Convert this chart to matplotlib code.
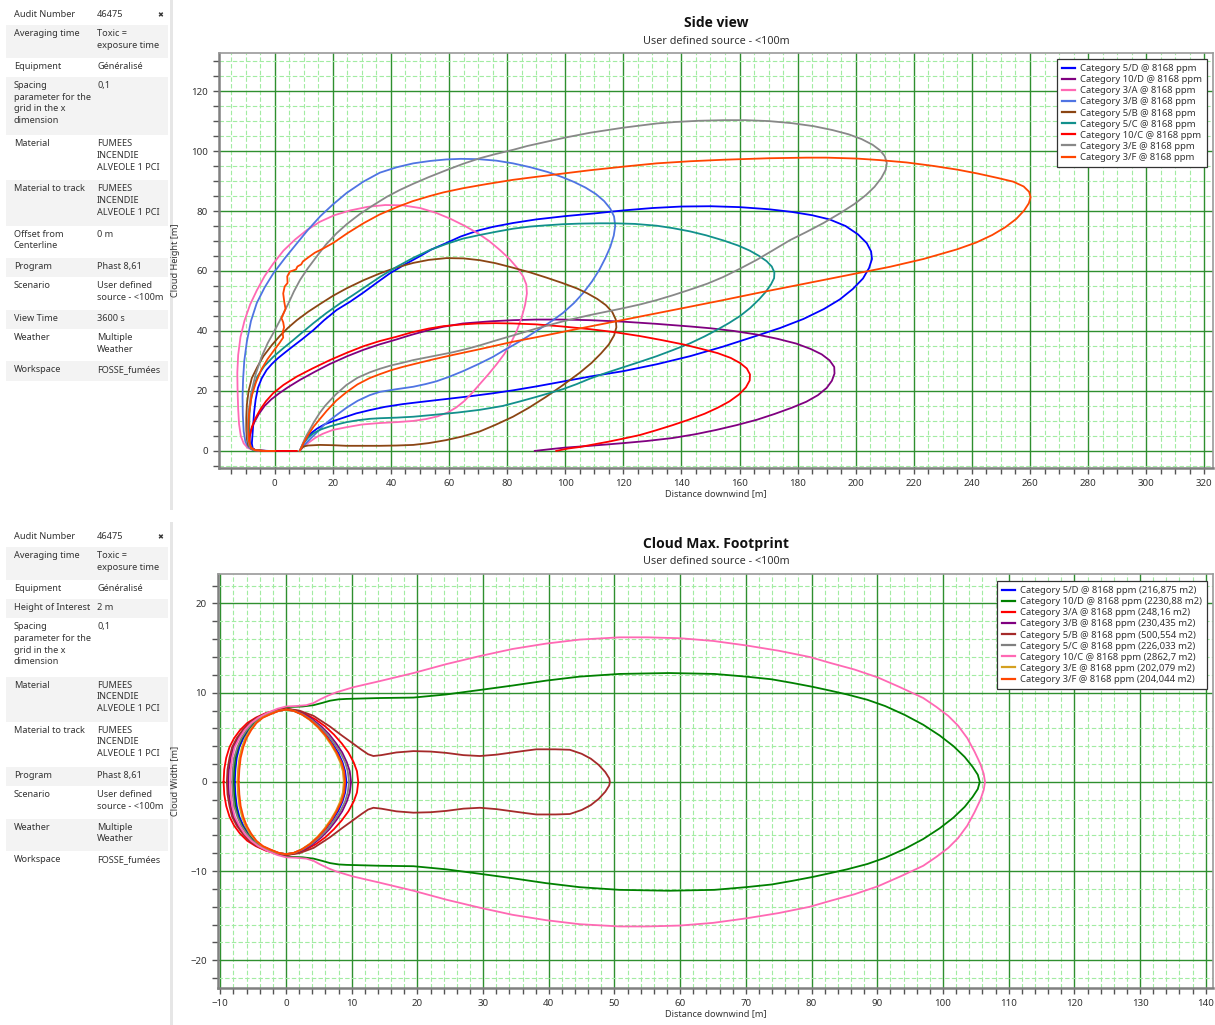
import numpy as np
import matplotlib
matplotlib.use("Agg")
import matplotlib.pyplot as plt
from matplotlib.ticker import MultipleLocator
from matplotlib.lines import Line2D

plt.rcParams['font.family'] = ['Noto Sans', 'DejaVu Sans']

# ---------------- side view data (x downwind [m], z height [m]) ----------------
# each outline runs out along the lower edge, round the tip and back along the top
side_5D_x = [8.6, 9.2, 9.9, 11, 12.5, 14.5, 17, 20, 24, 28, 32.7, 38, 44, 50, 59, 67, 75, 82, 90, 99,
             108.5, 120, 131.5, 143, 154.4, 165.9, 174, 182, 189, 194.5, 199, 202.5, 204.6, 205.6, 205.3,
             203.8, 200.8, 196.5, 191, 185, 178, 170, 160, 150, 140, 130, 120, 110, 100, 90, 82, 75, 70,
             64, 59, 54, 49.9, 45, 39.6, 35, 30.5, 26, 21.3, 17, 13.3, 9.5, 6.4, 3.5, 1.2, -1, -2.8,
             -4.5, -5.8, -6.6, -7.1, -7.4, -7.7, -7.9, -7.6, -6.8, -5, -2]
side_5D_y = [0, 1.2, 2.6, 4.2, 5.9, 7.4, 8.8, 9.9, 11.2, 12.5, 13.6, 14.7, 15.6, 16.3, 17.3, 18.2, 19.2,
             20.2, 21.5, 23.1, 24.8, 26.6, 28.9, 31.6, 34.8, 38.4, 41, 44, 47.3, 50.5, 54, 57.5, 61, 64,
             66.5, 69.3, 72.2, 75, 77.2, 78.6, 79.7, 80.6, 81.3, 81.6, 81.5, 81, 80.2, 79.2, 78.3, 77.2,
             76, 74.7, 73.5, 71.5, 69.3, 67.2, 64.9, 62.3, 59.2, 56, 52.8, 49.8, 47, 43.6, 40.3, 37.3,
             35, 32.8, 31, 29, 27, 24.2, 21, 17, 13, 9, 5, 2.5, 0.9, 0.3, 0.1, 0]

side_10D_x = [89.5, 95, 100, 108.5, 115, 120, 128, 137, 145, 152, 159, 166, 172, 178, 183, 187, 190,
              191.8, 192.7, 192.6, 191, 188.3, 184.5, 179.5, 173, 166, 158, 150, 143, 131, 120, 108.5,
              99, 90, 82, 74, 64.8, 58, 53, 47, 42, 36, 30.5, 25, 19, 14, 8.7, 4.5, 1.5, -1.2, -3.5,
              -5.5, -7, -8.2, -8.8, -8.8, -8.2, -6.5, -3, 3, 7.2]
side_10D_y = [0, 0.6, 1.1, 1.7, 2.2, 2.6, 3.3, 4.3, 5.6, 7, 8.6, 10.4, 12.3, 14.4, 16.4, 18.6, 21, 23.4,
              25.8, 28, 30.2, 32.2, 34, 35.8, 37.4, 38.8, 40, 40.9, 41.5, 42.4, 43.1, 43.6, 43.8, 43.8,
              43.6, 43.2, 42.5, 41.4, 40.3, 38.7, 37.2, 35.5, 33.7, 31.6, 29, 26.5, 23.7, 21.2, 19.2,
              17.2, 15, 12.3, 9.6, 6.8, 4, 2, 0.8, 0.2, 0, 0, 0]

side_3A_x = [8.6, 10, 12, 14, 16.5, 20, 24.7, 30, 36.2, 42, 47.7, 52, 56, 59.5, 62.5, 65.2, 67.8, 70.5,
             73.5, 76.3, 79, 81.3, 83.3, 85, 86.2, 86.8, 86.6, 85.5, 83.5, 80.8, 77.5, 73.8, 70, 65.5,
             60.5, 55.5, 50, 44, 38, 32, 26, 20.5, 15.5, 11, 7, 3, -0.5, -3.5, -6.2, -8.5, -10.4, -11.8,
             -12.6, -12.9, -12.8, -12.6, -12.3, -11.7, -10.7, -9.3, -7.5, -5.5]
side_3A_y = [0, 1.5, 3, 4.4, 5.7, 7, 7.9, 8.8, 9.3, 9.6, 10, 10.6, 11.5, 12.8, 14.5, 16.6, 19.2, 22.2,
             25.5, 28.8, 32.3, 36, 40, 44.5, 48.8, 52.5, 55.5, 58.2, 61, 64, 67, 70, 72.5, 75, 77.4,
             79.4, 81, 81.9, 82, 81.4, 80.2, 78.6, 76.4, 73.6, 70.5, 66.8, 62.5, 58.3, 53.5, 48.8, 43.5,
             38, 32, 26, 20, 14, 9, 5, 2.5, 1, 0.3, 0.1]

side_3B_x = [8.6, 9.5, 10.7, 12.1, 14.3, 16.7, 19, 21.2, 24.7, 28.5, 32.7, 36.2, 42, 47.7, 52, 55.6, 60,
             64.8, 70, 75, 79, 82, 86.5, 91.2, 95.5, 99.2, 103, 106.2, 109.2, 111.8, 113.8, 115.5, 116.7,
             117.2, 116.8, 115.5, 113.4, 110.5, 107, 103, 99, 94, 88, 82, 76.3, 70, 64, 59, 53.5, 47.7,
             42, 36.2, 30.5, 24.7, 19.8, 15.6, 11.5, 7.6, 3.5, -0.5, -3.5, -6.2, -8.2, -9.6, -10.5,
             -10.9, -11.1, -11, -10.7, -10.1, -9, -7.5, -5.5]
side_3B_y = [0, 1.2, 2.5, 3.9, 6, 8.4, 10.3, 11.9, 14.4, 16.7, 18.6, 19.7, 20.6, 21.4, 22.3, 23.2, 24.7,
             26.6, 28.9, 31.3, 33.6, 35.2, 37.8, 40.7, 43.4, 46, 49.3, 52.7, 56.5, 60.5, 64.3, 68, 71.8,
             75, 78.2, 80.8, 83.3, 85.7, 87.8, 89.7, 91.3, 93, 94.6, 95.9, 96.8, 97.3, 97.4, 97.2, 96.7,
             95.9, 94.6, 92.8, 89.8, 86, 82, 78.2, 73.8, 69.2, 64.3, 59.2, 54.5, 49.3, 43.3, 36.5, 30,
             24, 18, 12, 6.5, 3, 1.2, 0.3, 0.1]

side_5B_x = [8.6, 9.2, 10, 11.5, 15.6, 20, 24.7, 30, 36.2, 42, 47.7, 53, 59, 64.5, 70.6, 76, 82, 87.5,
             93.5, 99, 104.9, 109, 112.3, 115, 116.8, 117.6, 117.4, 116.2, 114, 111, 107.5, 104, 99, 93.5,
             88, 82, 76, 70.6, 65, 59.1, 53, 47.7, 42, 36.2, 30.5, 24.7, 20, 15.6, 11.5, 7.6, 4.5, 1.8,
             -1, -3.9, -6, -7.9, -9, -9.6, -9.8, -9.8, -9.6, -9.1, -8, -6.5, -4.5]
side_5B_y = [0, 0.9, 1.5, 1.8, 2, 1.9, 1.7, 1.7, 1.7, 1.8, 2, 2.6, 3.6, 4.8, 6.5, 8.7, 11.4, 14.4, 18.1,
             21.8, 26, 29.3, 32.5, 35.5, 38.5, 41.2, 43.8, 46.3, 48.6, 50.7, 52.6, 54.2, 56, 57.8, 59.5,
             61.1, 62.6, 63.6, 64.2, 64.3, 63.7, 62.7, 61.2, 59.2, 56.9, 54.2, 51.7, 49, 46.4, 43.6, 41,
             38.4, 35.3, 31.6, 28, 24.3, 20, 15.5, 11, 7, 4, 1.8, 0.6, 0.2, 0]

side_5C_x = [8.6, 9.2, 9.9, 11.5, 13.3, 16, 19, 21.7, 24.7, 28.5, 32.7, 36.2, 42, 47.7, 55.6, 63, 70.6,
             78.5, 84, 90, 95.7, 99.2, 104, 108.5, 114, 120, 126, 131.5, 137, 143, 148, 152.1, 156.3,
             160.2, 163.7, 166.7, 169, 170.8, 171.9, 172, 171.1, 169.3, 166.6, 163.5, 159.5, 154.4, 148.5,
             143, 137, 131.5, 124, 117, 111.8, 105, 99.2, 93, 87.7, 82, 76.3, 70.5, 64.8, 59, 53.4, 47.5,
             42, 36.5, 31.6, 27, 22.5, 17.8, 13.3, 9.7, 6.4, 3, -0.5, -3.6, -6, -7.5, -8.3, -8.7, -8.8,
             -8.8, -8.4, -7.5, -6, -3]
side_5C_y = [0, 1.3, 2.6, 4.4, 5.9, 7.2, 8.2, 8.9, 9.6, 10.2, 10.7, 10.9, 11.1, 11.4, 12.1, 12.8, 13.7,
             15, 16.4, 18, 19.6, 20.6, 22.3, 24.1, 26, 27.9, 29.8, 31.6, 33.6, 35.9, 38.2, 40.3, 42.6,
             45, 47.7, 50.5, 53, 55.5, 57.6, 59.5, 61.5, 63.3, 65.1, 66.8, 68.5, 70.2, 71.9, 73.2, 74.3,
             75.1, 75.7, 75.9, 75.9, 75.8, 75.6, 75.2, 74.8, 74.1, 73.1, 72, 70.8, 69, 67, 64.3, 61.4,
             58.2, 55, 52, 49.2, 46, 42.6, 39.7, 37, 34.3, 31.4, 28.3, 24.8, 20.5, 16.5, 12.5, 8, 4.5,
             1.8, 0.5, 0.2, 0]

side_10C_x = [96.9, 101, 105, 110, 115, 120, 125.7, 131, 137, 142.5, 148, 152.5, 156.5, 159.8, 162.2,
              163.5, 163.6, 162.5, 160.2, 157, 152.5, 147, 140.7, 133, 125.7, 117, 108.5, 99, 90, 82,
              76, 70, 64.8, 58, 53, 47, 42, 36, 30.5, 25, 19, 13, 7.6, 3, -0.5, -3, -5, -6.7, -7.9,
              -8.6, -8.7, -8.2, -6.5, -3, 3, 7.6]
side_10C_y = [0, 0.8, 1.3, 2.2, 3.1, 4.1, 5.3, 6.8, 8.6, 10.4, 12.4, 14.4, 16.5, 18.8, 21.2, 23.5, 25.5,
              27.5, 29.3, 31, 32.6, 34, 35.5, 37, 38.3, 39.6, 40.6, 41.5, 42.2, 42.5, 42.6, 42.5, 42.2,
              41.6, 40.8, 39.5, 38.1, 36.6, 34.9, 32.8, 30.3, 27.5, 24.8, 22, 19.3, 16.6, 13.8, 10.8, 8,
              5, 2.7, 1, 0.2, 0, 0, 0]

side_3E_x = [8.6, 9.1, 9.7, 10.7, 12, 13.6, 15.5, 17.3, 19, 21.2, 24.7, 28.5, 32.7, 36.2, 40, 44, 47.7,
             54, 61.3, 66, 70.6, 76, 82, 90, 99.2, 104, 108.5, 114, 120, 126, 131.5, 137, 143, 149, 154.4,
             160, 165.9, 171.5, 177.4, 183, 188.9, 194.5, 199.5, 203.5, 206.5, 208.8, 210.3, 210.7, 210,
             208.3, 205.8, 202, 197.5, 192, 185.5, 178, 170, 162, 154.4, 146, 138, 131.5, 120, 108.5,
             100, 93.5, 87, 82, 76, 70.6, 65, 59, 53, 47.7, 43, 38.5, 34, 29.3, 25, 21.3, 17.6, 14.4,
             11.3, 8.7, 6.6, 4.9, 3.3, 1.5, -0.4, -2.4, -4.5, -6.6, -8.2, -9.1, -9.4, -9.2, -8.6, -7.3,
             -5.5]
side_3E_y = [0, 1.2, 2.6, 4.8, 7, 9.8, 12.7, 15, 16.8, 19, 22, 24.4, 26.2, 27.4, 28.5, 29.4, 30.3, 31.5,
             32.9, 34, 35.2, 36.8, 38.5, 40.8, 43.2, 44.3, 45.3, 46.4, 47.6, 48.9, 50.3, 51.9, 53.8,
             55.8, 58, 60.7, 63.7, 66.9, 70.3, 73, 76, 79.2, 82.3, 85.3, 88.1, 91, 93.7, 96, 98.3, 100.3,
             102.1, 104, 105.6, 107, 108.3, 109.3, 110, 110.3, 110.3, 110.1, 109.7, 109.2, 107.8, 106.1,
             104.5, 103.1, 101.7, 100.4, 99, 97.6, 95.8, 93.6, 91.3, 89.1, 87, 84.7, 82, 79, 75.8, 72.6,
             68.8, 64.8, 60.8, 57, 53.2, 49.6, 46.5, 43, 39.5, 36, 31.5, 25.5, 19, 12.5, 7, 3.5, 1.2,
             0.3, 0.1]

side_3F_x = [8.6, 9.3, 9.9, 11.5, 13.3, 15.5, 17.9, 21.2, 24.7, 28.5, 32.7, 36.2, 40, 44, 47.7, 54, 61.3,
             70, 82, 90, 99.2, 108.5, 120, 131.5, 143, 154.4, 165.9, 177.4, 188.9, 200.3, 211.8, 223.3,
             234.8, 241.5, 247, 251.5, 255.3, 258, 259.6, 260.2, 259.7, 257.8, 254.2, 249, 242, 235, 227,
             217.5, 208, 200.3, 190, 183.1, 170, 154.4, 143, 131.5, 120, 108.5, 99.2, 90, 82, 73, 64.8,
             58, 53.4, 47.5, 42, 36, 30.5, 25, 20.2, 16.5, 13.8, 11.5, 9.7, 9.1, 7.8, 7.3, 5.2, 4.3, 4.4,
             3.4, 2.9, 3.3, 3.7, 3.1, 2.3, 2.9, 3.2, 2.7, 2.9, 1.5, 0, -2.5, -4.6, -6.5, -8, -8.9, -9.1,
             -8.9, -8.2, -7, -4, 0]
side_3F_y = [0, 1.3, 2.6, 5.3, 8, 10.6, 13.4, 16.8, 19.6, 22.2, 24.3, 25.6, 26.9, 28, 28.9, 30.4, 32,
             33.8, 36.4, 37.9, 39.7, 41.5, 43.7, 45.9, 48.1, 50.3, 52.6, 54.8, 57, 59.2, 61.4, 64, 67.2,
             69.5, 72, 74.6, 77.4, 80.2, 82.6, 84.6, 86.4, 88.2, 89.8, 91, 92.5, 93.8, 95, 96.2, 97,
             97.5, 97.8, 97.8, 97.6, 97.1, 96.6, 95.9, 94.8, 93.6, 92.5, 91.4, 90.4, 89, 87.6, 86.2, 85,
             83.3, 81.3, 78.8, 75.9, 72.6, 69.4, 67.4, 66.1, 64.5, 63.2, 62.2, 61.5, 60.5, 59.8, 58.2,
             56, 54.8, 52.5, 49.5, 47.4, 46, 44.3, 42.9, 41.2, 39.5, 37.8, 35.8, 33.9, 30.6, 27.2, 22.8,
             18.1, 12, 7, 3.2, 1, 0.3, 0, 0]

side_labels = ['Category 5/D @ 8168 ppm', 'Category 10/D @ 8168 ppm', 'Category 3/A @ 8168 ppm',
               'Category 3/B @ 8168 ppm', 'Category 5/B @ 8168 ppm', 'Category 5/C @ 8168 ppm',
               'Category 10/C @ 8168 ppm', 'Category 3/E @ 8168 ppm', 'Category 3/F @ 8168 ppm']
side_colors = ['#0000ff', '#800080', '#ff69b4', '#4f74e3', '#8b4513', '#12908c', '#ff0000',
               '#888888', '#ff4500']

# ---------------- footprint data (x downwind [m], half width [m]) ----------------
fp_5D_x = [-7.8, -7.7, -7.5, -7.1, -6.5, -5.7, -4.8, -3.8, -2.5, -1.2, 0, 1.25, 2.5, 3.75, 5.0, 6.1, 7.1,
           7.95, 8.6, 9.0, 9.2]
fp_5D_w = [0, 1.4, 2.7, 3.9, 4.9, 5.8, 6.6, 7.2, 7.6, 7.95, 8.1, 7.95, 7.55, 6.95, 6.15, 5.25, 4.25,
           3.25, 2.2, 1.2, 0]

fp_10D_x = [-8.0, -7.9, -7.7, -7.3, -6.7, -5.9, -5.0, -3.9, -2.5, -1.0, 0.6, 2.5, 4.2, 5.5, 6.7, 8, 9.2,
            14.3, 19.4, 24.4, 29.5, 34.5, 39.6, 44.7, 50.75, 58.3, 65.2, 70, 73.9, 77, 80.2, 83, 85.4,
            88.5, 91.2, 94.2, 97, 99.5, 101.6, 103.3, 104.5, 105.3, 105.6]
fp_10D_w = [0, 1.4, 2.7, 3.9, 4.9, 5.8, 6.6, 7.2, 7.75, 8.15, 8.4, 8.45, 8.6, 8.85, 9.1, 9.25, 9.3,
            9.4, 9.45, 9.8, 10.3, 10.8, 11.35, 11.8, 12.1, 12.2, 12.1, 11.8, 11.5, 11.1, 10.65, 10.2, 9.8,
            9.2, 8.5, 7.5, 6.4, 5.2, 4.0, 2.8, 1.7, 0.8, 0]

fp_3A_x = [-9.5, -9.4, -9.1, -8.6, -7.9, -7.0, -5.9, -4.6, -3.1, -1.5, 0, 1.5, 3.0, 4.5, 6.0, 7.3, 8.5,
           9.5, 10.3, 10.8, 11.0]
fp_3A_w = [0, 1.4, 2.7, 3.9, 4.9, 5.8, 6.6, 7.2, 7.7, 8.0, 8.2, 8.0, 7.6, 7.0, 6.2, 5.3, 4.3, 3.3, 2.2,
           1.2, 0]

fp_3B_x = [-8.8, -8.7, -8.4, -8.0, -7.3, -6.5, -5.5, -4.3, -2.9, -1.4, 0, 1.35, 2.7, 4.05, 5.4, 6.6,
           7.65, 8.55, 9.25, 9.7, 9.9]
fp_3B_w = [0, 1.4, 2.7, 3.9, 4.9, 5.8, 6.6, 7.2, 7.7, 8.0, 8.2, 8.0, 7.6, 7.0, 6.2, 5.3, 4.3, 3.3, 2.2,
           1.2, 0]

fp_5B_x = [-9.0, -8.9, -8.6, -8.2, -7.5, -6.6, -5.6, -4.4, -2.9, -1.4, 0, 2, 4.2, 6.7, 8.5, 10.2, 11.5,
           12.5, 13.3, 14.5, 16.8, 19.4, 22, 24.4, 27, 29.5, 32, 34.5, 36.5, 38.1, 41, 43.2, 45, 46.4,
           47.6, 48.6, 49.2, 49.3]
fp_5B_w = [0, 1.4, 2.7, 3.9, 4.9, 5.8, 6.6, 7.2, 7.7, 8.0, 8.2, 8.0, 7.4, 6.2, 5.2, 4.3, 3.6,
           3.1, 2.9, 3.0, 3.3, 3.45, 3.4, 3.25, 3.0, 2.9, 3.05, 3.3, 3.5, 3.65, 3.65, 3.6, 3.15, 2.6,
           1.9, 1.1, 0.4, 0]

fp_5C_x = [-8.2, -8.1, -7.9, -7.4, -6.8, -6.0, -5.1, -4.0, -2.7, -1.3, 0, 1.3, 2.6, 3.9, 5.2, 6.4, 7.4,
           8.3, 9.0, 9.4, 9.6]
fp_5C_w = [0, 1.4, 2.7, 3.9, 4.9, 5.8, 6.6, 7.2, 7.6, 7.95, 8.1, 7.95, 7.55, 6.95, 6.15, 5.25, 4.25,
           3.25, 2.2, 1.2, 0]

fp_10C_x = [-8.5, -8.4, -8.2, -7.8, -7.1, -6.3, -5.3, -4.2, -2.8, -1.3, 0, 1.5, 3.1, 4.2, 5.2, 6.5, 7.7,
            10.2, 14.3, 19.4, 24.4, 29.5, 34.5, 39.6, 44.7, 50.75, 55, 60, 65, 70, 75, 79.7, 83, 86.5,
            90.1, 93.5, 97, 99, 100.8, 102.3, 103.7, 104.8, 105.7, 106.2, 106.4]
fp_10C_w = [0, 1.4, 2.7, 3.9, 4.9, 5.8, 6.6, 7.2, 7.75, 8.2, 8.45, 8.5, 8.6, 8.85, 9.25, 9.7, 10.05,
            10.6, 11.3, 12.2, 13.2, 14.1, 14.9, 15.5, 15.95, 16.2, 16.2, 16.1, 15.8, 15.3, 14.7, 14.0,
            13.3, 12.6, 11.7, 10.6, 9.4, 8.4, 7.4, 6.3, 4.9, 3.4, 2.0, 0.9, 0]

fp_3E_x = [-7.4, -7.3, -7.1, -6.7, -6.2, -5.5, -4.6, -3.6, -2.4, -1.2, 0, 1.2, 2.4, 3.6, 4.8, 5.85,
           6.8, 7.6, 8.25, 8.65, 8.8]
fp_3E_w = [0, 1.4, 2.7, 3.9, 4.9, 5.8, 6.6, 7.2, 7.6, 7.95, 8.1, 7.95, 7.55, 6.95, 6.15, 5.25, 4.25,
           3.25, 2.2, 1.2, 0]

fp_3F_x = [-7.2, -7.1, -6.9, -6.5, -6.0, -5.3, -4.5, -3.5, -2.3, -1.1, 0, 1.2, 2.45, 3.7, 4.9, 6.0,
           6.95, 7.75, 8.45, 8.85, 9.0]
fp_3F_w = [0, 1.4, 2.7, 3.9, 4.9, 5.8, 6.6, 7.2, 7.6, 7.95, 8.1, 7.95, 7.55, 6.95, 6.15, 5.25, 4.25,
           3.25, 2.2, 1.2, 0]

fp_labels = ['Category 5/D @ 8168 ppm (216,875 m2)', 'Category 10/D @ 8168 ppm (2230,88 m2)',
             'Category 3/A @ 8168 ppm (248,16 m2)', 'Category 3/B @ 8168 ppm (230,435 m2)',
             'Category 5/B @ 8168 ppm (500,554 m2)', 'Category 5/C @ 8168 ppm (226,033 m2)',
             'Category 10/C @ 8168 ppm (2862,7 m2)', 'Category 3/E @ 8168 ppm (202,079 m2)',
             'Category 3/F @ 8168 ppm (204,044 m2)']
fp_colors = ['#0000ff', '#008000', '#ff0000', '#800080', '#a52a2a', '#808080', '#ff69b4',
             '#d4a020', '#ff4500']

# ---------------- property panels ----------------
panel_top = [
    ('Audit Number', '46475'),
    ('Averaging time', 'Toxic =\nexposure time'),
    ('Equipment', 'Généralisé'),
    ('Spacing\nparameter for the\ngrid in the x\ndimension', '0,1'),
    ('Material', 'FUMEES\nINCENDIE\nALVEOLE 1 PCI'),
    ('Material to track', 'FUMEES\nINCENDIE\nALVEOLE 1 PCI'),
    ('Offset from\nCenterline', '0 m'),
    ('Program', 'Phast 8,61'),
    ('Scenario', 'User defined\nsource - <100m'),
    ('View Time', '3600 s'),
    ('Weather', 'Multiple\nWeather'),
    ('Workspace', 'FOSSE_fumées'),
]
panel_bottom = [
    ('Audit Number', '46475'),
    ('Averaging time', 'Toxic =\nexposure time'),
    ('Equipment', 'Généralisé'),
    ('Height of Interest', '2 m'),
    ('Spacing\nparameter for the\ngrid in the x\ndimension', '0,1'),
    ('Material', 'FUMEES\nINCENDIE\nALVEOLE 1 PCI'),
    ('Material to track', 'FUMEES\nINCENDIE\nALVEOLE 1 PCI'),
    ('Program', 'Phast 8,61'),
    ('Scenario', 'User defined\nsource - <100m'),
    ('Weather', 'Multiple\nWeather'),
    ('Workspace', 'FOSSE_fumées'),
]

W, H = 1215, 1025
fig = plt.figure(figsize=(W / 100, H / 100), dpi=100)

# background axes in pixel units for the panels and titles
bg = fig.add_axes([0, 0, 1, 1])
bg.set_xlim(0, W)
bg.set_ylim(H, 0)
bg.axis('off')

TXT = '#333333'
LINE_H = 12.9


def draw_panel(rows, top, y_end):
    bg.add_patch(plt.Rectangle((170, top - 6), 3, y_end - top + 6, color='#e6e6e6', lw=0))
    y = top
    for i, (lab, val) in enumerate(rows):
        n = max(lab.count('\n'), val.count('\n')) + 1
        h = LINE_H * n + 6.5
        if i % 2 == 1:
            bg.add_patch(plt.Rectangle((6, y), 162, h, color='#f3f3f3', lw=0))
        bg.text(14, y + 4, lab, fontsize=6.6, color=TXT, va='top', ha='left', linespacing=1.38)
        bg.text(97, y + 4, val, fontsize=6.6, color=TXT, va='top', ha='left', linespacing=1.38)
        y += h
    bg.text(160, top + 9, '✖', fontsize=5, color='#333333', ha='center', va='center',
            family='DejaVu Sans')


draw_panel(panel_top, 6, 510)
draw_panel(panel_bottom, 528, 1025)

# titles
TITLE_FONT = ['Open Sans', 'DejaVu Sans']
bg.text(716, 23, 'Side view', fontsize=10, fontweight='bold', family=TITLE_FONT, ha='center',
        va='center', color='#111111')
bg.text(716, 41, 'User defined source - <100m', fontsize=7.8, ha='center', va='center', color=TXT)
bg.text(716, 544, 'Cloud Max. Footprint', fontsize=10, fontweight='bold', family=TITLE_FONT,
        ha='center', va='center', color='#111111')
bg.text(716, 562, 'User defined source - <100m', fontsize=7.8, ha='center', va='center', color=TXT)


def px_axes(l, t, r, b):
    return fig.add_axes([l / W, 1 - b / H, (r - l) / W, (b - t) / H])


def style(ax, xmaj, xmin, ymaj, ymin):
    ax.xaxis.set_major_locator(MultipleLocator(xmaj))
    ax.xaxis.set_minor_locator(MultipleLocator(xmin))
    ax.yaxis.set_major_locator(MultipleLocator(ymaj))
    ax.yaxis.set_minor_locator(MultipleLocator(ymin))
    ax.grid(which='minor', color='#a2eca2', lw=0.8, ls=(0, (4, 2)))
    ax.grid(which='major', color='#2f8f2f', lw=1.0)
    ax.set_axisbelow(True)
    ax.tick_params(which='both', direction='out', length=4, width=1, color='#555555',
                   labelsize=7, labelcolor=TXT, pad=4)
    for s in ('left', 'bottom'):
        ax.spines[s].set_color('#808080')
        ax.spines[s].set_linewidth(1.8)
    for s in ('top', 'right'):
        ax.spines[s].set_color('#9a9a9a')
        ax.spines[s].set_linewidth(1.2)


def legend(ax, colors, labels, right, top):
    handles = [Line2D([], [], color=c, lw=1.6) for c in colors]
    leg = ax.legend(handles, labels, loc='upper right', bbox_to_anchor=(right / W, 1 - top / H),
                    bbox_transform=fig.transFigure, borderaxespad=0, fancybox=False, framealpha=1,
                    edgecolor='#333333', fontsize=6.8, handlelength=1.4, handletextpad=0.5,
                    labelspacing=0.22, borderpad=0.55)
    leg.get_frame().set_linewidth(0.9)
    for t in leg.get_texts():
        t.set_color(TXT)


# side view
ax1 = px_axes(219, 53, 1213, 468)
side_x = [side_5D_x, side_10D_x, side_3A_x, side_3B_x, side_5B_x, side_5C_x, side_10C_x, side_3E_x, side_3F_x]
side_y = [side_5D_y, side_10D_y, side_3A_y, side_3B_y, side_5B_y, side_5C_y, side_10C_y, side_3E_y, side_3F_y]
for xs, ys, c in zip(side_x, side_y, side_colors):
    ax1.plot(xs, ys, color=c, lw=1.3, solid_joinstyle='round')
ax1.set_xlim(-19.2, 323)
ax1.set_ylim(-5.7, 132.7)
style(ax1, 20, 5, 20, 5)
ax1.set_xlabel('Distance downwind [m]', fontsize=6.6, color=TXT, labelpad=1)
ax1.set_ylabel('Cloud Height [m]', fontsize=6.6, color=TXT, labelpad=8)
legend(ax1, side_colors, side_labels, 1207, 59)

# footprint
ax2 = px_axes(218, 574, 1213, 988)
fp_x = [fp_5D_x, fp_10D_x, fp_3A_x, fp_3B_x, fp_5B_x, fp_5C_x, fp_10C_x, fp_3E_x, fp_3F_x]
fp_w = [fp_5D_w, fp_10D_w, fp_3A_w, fp_3B_w, fp_5B_w, fp_5C_w, fp_10C_w, fp_3E_w, fp_3F_w]
for xs, ws, c in zip(fp_x, fp_w, fp_colors):
    xs = np.asarray(xs)
    ws = np.asarray(ws)
    ax2.plot(np.concatenate([xs, xs[::-1]]), np.concatenate([ws, -ws[::-1]]), color=c, lw=1.3,
             solid_joinstyle='round')
ax2.set_xlim(-10.35, 141.1)
ax2.set_ylim(-23.1, 23.3)
style(ax2, 10, 2, 10, 2)
ax2.set_xlabel('Distance downwind [m]', fontsize=6.6, color=TXT, labelpad=1)
ax2.set_ylabel('Cloud Width [m]', fontsize=6.6, color=TXT, labelpad=8)
legend(ax2, fp_colors, fp_labels, 1207, 581)

fig.savefig('out.png', dpi=100)
